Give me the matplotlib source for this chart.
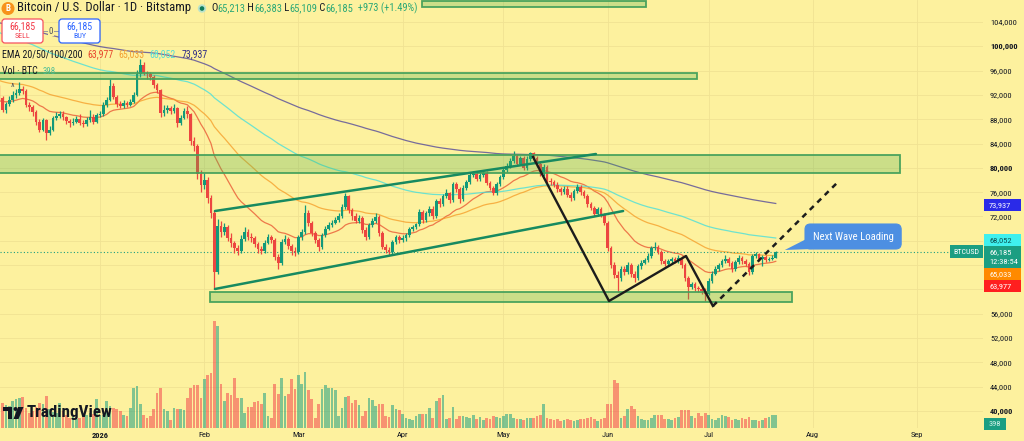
import numpy as np
import pandas as pd
import matplotlib
matplotlib.use('Agg')
import matplotlib.pyplot as plt
from matplotlib import font_manager
from matplotlib.patches import Rectangle, FancyBboxPatch, Polygon, Circle
from matplotlib.transforms import IdentityTransform

# daily BTCUSD (Bitstamp) candles, prices in thousands of USD, day 0 = 1 Jan 2026
first_day = -30
first_open = 93.0
closes = [91.5, 89.6, 90.5, 91.2, 92.0, 92.3, 92.9, 92.6, 90.4, 90.0,
          89.2, 87.5, 86.3, 87.8, 85.8, 86.3, 88.2, 88.6, 88.9, 88.3,
          87.7, 87.4, 87.6, 88.0, 87.4, 87.2, 87.9, 88.4, 87.6, 88.7,
          88.9, 90.4, 91.2, 93.5, 91.7, 90.5, 90.2, 90.6, 90.4, 90.9,
          92.0, 95.4, 97.0, 95.6, 95.4, 95.0, 93.6, 92.8, 89.0, 89.5,
          89.8, 89.4, 89.8, 87.4, 88.2, 89.4, 88.8, 84.4, 83.6, 79.0,
          77.2, 78.0, 75.0, 72.5, 62.9, 70.4, 69.5, 70.2, 68.5, 67.6,
          66.8, 66.4, 68.3, 69.5, 68.7, 68.4, 67.4, 66.6, 66.3, 67.7,
          68.6, 68.1, 65.4, 64.3, 67.8, 68.3, 67.1, 66.4, 66.1, 68.6,
          69.4, 72.6, 70.9, 69.2, 68.1, 66.9, 68.9, 70.0, 70.6, 71.0,
          71.4, 72.0, 73.5, 75.3, 73.0, 72.0, 71.3, 71.7, 69.8, 68.6,
          70.6, 71.2, 71.9, 69.2, 67.0, 66.5, 66.2, 67.8, 68.6, 68.1,
          68.4, 68.9, 69.9, 70.2, 70.7, 72.8, 71.4, 72.5, 73.3, 72.0,
          74.5, 74.0, 75.3, 75.8, 74.7, 77.3, 76.5, 74.8, 76.7, 77.6,
          78.8, 79.0, 78.2, 78.8, 79.2, 77.5, 76.7, 75.9, 77.3, 78.5,
          79.7, 80.3, 81.1, 81.9, 80.7, 81.6, 80.0, 81.5, 82.4, 81.6,
          80.6, 79.0, 80.1, 77.9, 77.6, 77.2, 76.5, 76.0, 76.6, 75.6,
          75.0, 76.2, 76.8, 76.0, 75.4, 74.0, 73.4, 72.4, 73.2, 72.3,
          71.0, 66.8, 64.0, 62.4, 61.8, 63.4, 62.8, 64.0, 62.6, 61.8,
          63.8, 64.4, 64.8, 65.5, 66.8, 67.0, 66.2, 64.6, 64.2, 64.6,
          65.0, 64.7, 65.2, 64.0, 61.9, 60.4, 60.9, 60.2, 60.1, 59.8,
          59.2, 61.4, 62.6, 63.4, 64.0, 64.6, 65.0, 64.3, 63.3, 64.5,
          65.2, 64.6, 64.2, 62.8, 65.5, 65.8, 65.0, 65.3, 64.9, 65.0,
          65.213, 66.185]
highs = [93.6, 91.9, 90.9, 91.8, 92.6, 93.0, 94.1, 93.5, 92.9, 90.9,
         90.4, 89.6, 88.0, 88.2, 88.1, 86.9, 88.6, 89.2, 89.4, 89.3,
         88.6, 88.0, 88.2, 88.5, 88.9, 87.8, 88.3, 89.6, 88.8, 89.0,
         89.3, 90.8, 91.7, 94.6, 93.9, 92.0, 91.0, 91.2, 91.0, 91.4,
         92.4, 96.1, 97.9, 97.4, 96.0, 95.8, 95.3, 93.9, 93.0, 90.3,
         90.4, 90.2, 90.5, 90.0, 88.7, 89.9, 90.2, 89.1, 85.0, 84.0,
         79.6, 79.2, 78.5, 75.6, 73.0, 71.6, 71.2, 70.9, 70.6, 69.3,
         68.0, 67.3, 68.9, 70.2, 70.0, 69.2, 68.8, 67.8, 67.1, 68.1,
         69.1, 69.0, 68.5, 65.9, 68.3, 68.9, 68.7, 67.5, 66.9, 69.0,
         70.0, 73.9, 73.0, 71.3, 69.6, 68.5, 69.3, 70.5, 71.1, 71.5,
         71.9, 72.6, 74.0, 75.9, 75.6, 73.4, 72.5, 72.2, 72.0, 70.2,
         71.0, 71.7, 72.5, 72.2, 69.6, 67.4, 66.9, 68.2, 69.0, 69.0,
         68.9, 69.3, 70.3, 70.6, 71.0, 73.2, 73.1, 72.9, 73.8, 73.7,
         74.9, 75.0, 75.7, 76.6, 76.1, 77.7, 77.6, 76.9, 77.1, 78.0,
         79.2, 79.5, 79.3, 79.2, 79.7, 79.5, 77.9, 77.0, 77.7, 78.9,
         80.1, 80.8, 81.6, 82.7, 82.2, 82.0, 81.9, 81.9, 82.6, 82.6,
         82.0, 80.9, 80.6, 80.4, 78.3, 78.0, 77.6, 76.9, 77.0, 77.0,
         76.0, 76.6, 77.3, 77.1, 76.4, 75.7, 74.4, 73.8, 73.6, 73.5,
         72.6, 71.3, 67.2, 64.5, 63.0, 63.9, 63.8, 64.5, 64.3, 63.0,
         64.2, 64.8, 65.2, 66.0, 67.2, 67.8, 67.3, 66.5, 65.0, 65.0,
         65.4, 65.4, 65.6, 65.5, 64.3, 62.2, 61.3, 61.2, 60.6, 60.5,
         60.2, 61.8, 63.0, 63.8, 64.4, 65.0, 65.6, 65.3, 64.6, 64.9,
         65.6, 65.5, 65.0, 64.5, 65.9, 66.2, 66.0, 65.7, 65.6, 65.4,
         65.6, 66.383]
lows = [91.0, 89.2, 89.0, 90.1, 90.8, 91.5, 92.0, 92.1, 90.0, 89.4,
        88.6, 87.0, 85.9, 86.0, 84.6, 85.4, 86.1, 87.8, 88.2, 87.9,
        87.2, 86.8, 87.0, 87.3, 87.1, 86.7, 86.9, 87.6, 87.2, 87.3,
        88.3, 88.6, 90.0, 91.0, 91.3, 90.0, 89.8, 89.9, 90.0, 90.1,
        90.6, 91.8, 95.0, 95.2, 94.7, 94.5, 93.1, 92.3, 88.4, 88.6,
        89.1, 88.9, 89.1, 86.8, 87.0, 88.0, 88.2, 83.8, 82.7, 78.2,
        76.0, 76.6, 74.3, 71.8, 60.1, 62.5, 68.6, 68.9, 67.9, 67.0,
        66.0, 65.7, 66.0, 68.0, 68.2, 67.8, 66.9, 66.0, 65.8, 66.0,
        67.4, 67.6, 64.9, 63.3, 64.0, 67.4, 66.6, 65.6, 65.5, 65.8,
        68.2, 69.1, 70.4, 68.8, 67.6, 66.4, 66.6, 68.6, 69.7, 70.2,
        70.7, 71.1, 71.7, 73.2, 72.6, 71.5, 70.9, 71.0, 69.3, 68.1,
        68.3, 70.2, 70.9, 68.8, 66.6, 66.0, 65.6, 65.9, 67.5, 67.7,
        67.8, 68.0, 68.6, 69.6, 69.9, 70.4, 71.0, 71.1, 72.1, 71.6,
        71.7, 73.6, 73.7, 75.0, 74.3, 74.4, 76.0, 74.3, 74.5, 76.4,
        77.3, 78.5, 77.8, 77.9, 78.5, 77.1, 76.3, 75.5, 75.6, 77.0,
        78.2, 79.4, 80.0, 80.8, 80.3, 80.4, 79.6, 79.7, 81.1, 81.2,
        80.2, 78.6, 78.7, 77.5, 77.1, 76.8, 76.1, 75.6, 75.7, 75.2,
        74.6, 74.7, 75.9, 75.6, 75.0, 73.6, 73.0, 72.0, 72.1, 71.9,
        70.6, 66.3, 63.5, 61.8, 59.5, 61.4, 62.3, 62.5, 62.1, 61.3,
        61.5, 63.4, 64.1, 64.5, 65.2, 66.5, 65.8, 64.2, 63.8, 63.9,
        64.3, 64.3, 64.4, 63.6, 61.4, 58.5, 60.0, 59.8, 59.6, 59.3,
        58.1, 59.0, 61.1, 62.3, 63.1, 63.7, 64.3, 63.9, 62.9, 63.0,
        64.2, 64.2, 63.8, 62.4, 62.5, 65.2, 64.6, 63.9, 64.5, 64.6,
        64.8, 65.109]
volumes = [780, 760, 700, 650, 820, 880, 900, 930, 600, 450,
           520, 640, 760, 720, 960, 560, 480, 440, 750, 500,
           380, 300, 340, 280, 300, 380, 400, 460, 430, 870,
           400, 380, 810, 660, 600, 580, 520, 380, 350, 600,
           1200, 1260, 720, 380, 300, 350, 560, 1050, 1200, 570,
           520, 250, 600, 570, 560, 550, 900, 1200, 1300, 1300,
           900, 1470, 1590, 1650, 3200, 3050, 1320, 800, 1050, 990,
           1500, 900, 900, 450, 630, 630, 780, 810, 720, 1050,
           360, 300, 1320, 1020, 1500, 960, 1020, 1470, 1170, 1590,
           1320, 1680, 1140, 870, 300, 720, 1170, 1290, 1200, 1200,
           1140, 360, 600, 930, 960, 750, 840, 690, 360, 510,
           900, 840, 660, 720, 720, 360, 330, 690, 570, 540,
           420, 300, 270, 240, 360, 420, 420, 420, 600, 300,
           810, 900, 990, 270, 300, 630, 270, 360, 360, 330,
           300, 390, 270, 330, 240, 300, 270, 360, 330, 300,
           360, 420, 420, 300, 270, 270, 240, 300, 300, 300,
           360, 390, 720, 300, 270, 240, 270, 210, 240, 270,
           240, 210, 240, 270, 270, 300, 330, 270, 210, 270,
           300, 720, 720, 1440, 1350, 300, 360, 570, 660, 570,
           360, 270, 240, 240, 300, 390, 390, 390, 270, 270,
           240, 300, 330, 540, 540, 540, 360, 300, 450, 360,
           450, 390, 270, 240, 300, 390, 360, 330, 240, 270,
           240, 300, 270, 330, 240, 240, 210, 240, 300, 330,
           390, 398]
assert len(closes) == len(highs) == len(lows) == len(volumes) == 232

ema_periods = [20, 50, 100, 200]
ema_start = [91.0, 94.5, 102.5, 104.0]
ema_last = ['63,977', '65,033', '68,052', '73,937']
ema_last_values = [63.977, 65.033, 68.052, 73.937]
ema_colors = ['#e8502e', '#f59b25', '#3fdede', '#4a3f9a']

month_days = [0, 31, 59, 90, 120, 151, 181, 212, 243]
month_labels = ['2026', 'Feb', 'Mar', 'Apr', 'May', 'Jun', 'Jul', 'Aug', 'Sep']
price_ticks = list(range(40, 108, 4))

header_values = ['65,213', '66,383', '65,109', '66,185']
header_change = '+973 (+1.49%)'
last_price = 66.185
last_volume = 398

# chart drawings (days, prices in thousands)
zones = [(95.7, 162.4, 106.52, 107.50),
         (-40, 177.6, 94.54, 95.69),
         (-40, 238.0, 79.17, 82.07),
         (32.7, 205.7, 57.93, 59.57)]
channel_upper = ([34.2, 147.5], [72.90, 82.28])
channel_lower = ([34.2, 155.6], [60.07, 72.90])
swing_days = [128.8, 151.4, 174.3, 182.3]
swing_prices = [81.79, 58.09, 65.50, 57.27]
target_days = [182.3, 219.8]
target_prices = [57.27, 77.84]
note_box = (209.7, 238.3, 66.65, 70.76)
note_tip = (203.7, 66.49)

W, H = 1024, 441
BG = '#fdf19e'
UP = '#12997a'
DN = '#ec4640'
TXT = '#131722'

names = {f.name for f in font_manager.fontManager.ttflist}
narrow = [n for n in ['Liberation Sans Narrow', 'Roboto Condensed', 'Open Sans Condensed',
                      'Noto Sans Condensed'] if n in names]
FONT = narrow[0] if narrow else 'Liberation Sans'
WIDEN = 1.0 if narrow else 1.12
plt.rcParams['font.family'] = [FONT, 'DejaVu Sans']

fig = plt.figure(figsize=(W / 100, H / 100), dpi=100, facecolor=BG)
renderer = fig.canvas.get_renderer()
AX_R = 983
ax = fig.add_axes([0, 13 / H, AX_R / W, 428 / H])
ax.set_facecolor(BG)
ax.set_xlim(-100 / 3.362, (AX_R - 100) / 3.362)
ax.set_ylim(104 - 406 * 4 / 24.31, 104 + 22 * 4 / 24.31)


def ptext(x, y, s, size, color=TXT, weight='normal', ha='left', va='center', z=20):
    return fig.text(x, H - y, s, transform=IdentityTransform(), fontsize=size, color=color,
                    fontweight=weight, ha=ha, va=va, zorder=z)


def fit(x, y, s, width, **kw):
    t = ptext(x, y, s, 10, **kw)
    t.set_fontsize(10 * width * WIDEN / t.get_window_extent(renderer).width)
    return t


def prect(x0, y0, x1, y1, fc, ec='none', lw=0, r=0, z=15):
    style = f'round,pad=0,rounding_size={r}' if r else 'square,pad=0'
    p = FancyBboxPatch((x0, H - y1), x1 - x0, y1 - y0, boxstyle=style, fc=fc, ec=ec, lw=lw,
                       transform=IdentityTransform(), zorder=z)
    fig.add_artist(p)
    return p


def ypx(price):
    return H - ax.transData.transform((0, price))[1]


probe = ptext(0, 0, '104,000', 10)
tick_size = 10 * 26 * WIDEN / probe.get_window_extent(renderer).width
probe.remove()

days = np.arange(first_day, first_day + len(closes))
opens = [first_open] + closes[:-1]
up = np.array(closes) >= np.array(opens)
colors = np.where(up, UP, DN)

# volume (bottom overlay, 30 BTC per pixel)
vol_colors = [(8 / 255, 153 / 255, 129 / 255, 0.5) if u else (242 / 255, 54 / 255, 69 / 255, 0.5) for u in up]
ax.bar(days, np.array(volumes) / (428 * 30.0), width=0.8, bottom=0, color=vol_colors,
       transform=ax.get_xaxis_transform(), zorder=1)

# EMAs
close_s = pd.Series(closes)
for n, start, c in zip(ema_periods, ema_start, ema_colors):
    ema = pd.concat([pd.Series([start]), close_s], ignore_index=True).ewm(span=n, adjust=False).mean().iloc[1:]
    ax.plot(days, ema.values, color=c, lw=0.9, alpha=0.75, zorder=2)

ax.axhline(last_price, color='#1b9e82', lw=0.8, ls=(0, (1, 2)), zorder=2)

# candles
ax.vlines(days, lows, highs, colors=colors, lw=0.9, zorder=3)
body_lo = np.minimum(opens, closes)
body_h = np.maximum(np.abs(np.array(closes) - np.array(opens)), 0.15)
ax.bar(days, body_h, width=0.8, bottom=body_lo, color=colors, zorder=3.1)

# zones
for d0, d1, lo, hi in zones:
    ax.add_patch(Rectangle((d0, lo), d1 - d0, hi - lo, fc=(76 / 255, 175 / 255, 80 / 255, 0.28),
                           ec=(67 / 255, 160 / 255, 90 / 255, 0.95), lw=1.3, zorder=4))

# trend lines
ax.plot(*channel_upper, color='#178a60', lw=1.8, zorder=5, solid_capstyle='round')
ax.plot(*channel_lower, color='#178a60', lw=1.8, zorder=5, solid_capstyle='round')
ax.plot(swing_days, swing_prices, color='#1c1c1c', lw=1.7, zorder=5)
ax.plot(target_days, target_prices, color='#1c1c1c', lw=1.8, ls=(0, (2.2, 2.0)), zorder=5)

# callout
nb = FancyBboxPatch((note_box[0], note_box[2]), note_box[1] - note_box[0], note_box[3] - note_box[2],
                    boxstyle='round,pad=0,rounding_size=1.6', mutation_aspect=0.553,
                    fc='#4d8fe2', ec='#4d8fe2', lw=0.8, zorder=6)
ax.add_patch(nb)
ax.add_patch(Polygon([(note_box[0] + 0.6, note_box[2] + 1.7), note_tip, (note_box[0] + 2.4, note_box[2])],
                     closed=True, fc='#4d8fe2', ec='none', zorder=6))
cx = (note_box[0] + note_box[1]) / 2
cy = (note_box[2] + note_box[3]) / 2
nt = ax.text(cx, cy, 'Next Wave Loading', color='white', ha='center', va='center', fontsize=7.5, zorder=7)
nt.set_fontsize(7.5 * 80 * min(WIDEN, 1.08) / nt.get_window_extent(renderer).width)

# price scale markers (stacked like the price axis does)
marks = [(ema_last_values[3], '#2a2ae8', 'white', [ema_last[3]]),
         (ema_last_values[2], '#3ff0ee', '#0b5050', [ema_last[2]]),
         (last_price, '#1b9e82', 'white', [header_values[3], '12:38:54']),
         (ema_last_values[1], '#ff8a00', 'white', [ema_last[1]]),
         (ema_last_values[0], '#ff1f1f', 'white', [ema_last[0]])]
covered = []
prev_bottom = -1e9
for value, fc, tc, lines in marks:
    h = 12 + 9.5 * (len(lines) - 1)
    top = max(ypx(value) - 6, prev_bottom)
    prect(AX_R + 1, top, 1021, top + h, fc, z=16)
    for i, s in enumerate(lines):
        ptext(989, top + 6 + 9.5 * i, s, tick_size, color=tc, z=17)
    covered.append((top - 4, top + h + 4))
    prev_bottom = top + h
yl = ypx(last_price)
prect(950, yl - 6.5, AX_R, yl + 6.5, '#1b9e82', z=16)
ptext((950 + AX_R) / 2, yl, 'BTCUSD', tick_size * 0.95, color='white', ha='center', z=17)
prect(AX_R + 1, 418, 1006, 430, '#1b9e82', z=16)
ptext(995, 424, str(last_volume), tick_size, color='#d8f5ec', ha='center', z=17)

# grid + axes
ax.set_axisbelow(True)
ax.grid(color='#f0e293', lw=0.6)
for s in ax.spines.values():
    s.set_visible(False)
ax.set_xticks(month_days)
ax.set_xticklabels(month_labels)
ax.set_yticks(price_ticks)
tick_text = []
for v in price_ticks:
    yv = ypx(v)
    hidden = any(a < yv < b for a, b in covered)
    tick_text.append('' if hidden else f'{v * 1000:,}')
ax.set_yticklabels(tick_text)
ax.yaxis.tick_right()
ax.tick_params(axis='y', length=0, pad=5, labelsize=tick_size, labelcolor=TXT)
ax.tick_params(axis='x', length=0, pad=3, labelsize=tick_size, labelcolor=TXT)
ax.get_xticklabels()[0].set_fontweight('bold')
for lab, v in zip(ax.get_yticklabels(), price_ticks):
    if v in (40, 60, 80, 100):
        lab.set_fontweight('bold')

# header
fig.add_artist(Circle((8, H - 8.5), 6.5, fc='#f7931a', ec='none', transform=IdentityTransform(), zorder=18))
ptext(8, 8.5, 'B', 6.5, color='white', weight='bold', ha='center', z=19)
fit(17, 8, 'Bitcoin / U.S. Dollar · 1D · Bitstamp', 173)
dot_x = 202 + 173 * (WIDEN - 1)
fig.add_artist(Circle((dot_x, H - 8.5), 4.2, fc='#b9e3cc', ec='none', transform=IdentityTransform(), zorder=18))
fig.add_artist(Circle((dot_x, H - 8.5), 2.3, fc='#0f7b5a', ec='none', transform=IdentityTransform(), zorder=19))
parts = [('O', TXT), (header_values[0], '#2aa876'), (' H', TXT), (header_values[1], '#2aa876'),
         (' L', TXT), (header_values[2], '#2aa876'), (' C', TXT), (header_values[3], '#2aa876'),
         ('  ' + header_change, '#2aa876')]
full = ''.join(p for p, _ in parts)
probe = ptext(0, 0, full, 10)
ohlc_size = 10 * 207 * WIDEN / probe.get_window_extent(renderer).width
probe.remove()
x = dot_x + 9
for s, c in parts:
    t = ptext(x, 8, s, ohlc_size, color=c)
    x += t.get_window_extent(renderer).width

prect(2, 19, 43, 43, 'white', ec='#f7525f', lw=0.9, r=3, z=18)
prect(59, 19, 100, 43, 'white', ec='#2962ff', lw=0.9, r=3, z=18)
fig.add_artist(plt.Line2D([43, 59], [H - 31, H - 31], color='#9598a1', lw=0.7,
                          transform=IdentityTransform(), zorder=17))
ptext(51, 31, '0', 6.5, color='#50535e', ha='center', z=19).set_bbox(dict(fc=BG, ec='none', pad=0.3))
ptext(22.5, 26, header_values[3], 7, color='#f23645', ha='center', z=19)
ptext(22.5, 36.5, 'SELL', 5.8, color='#f23645', ha='center', z=19)
ptext(79.5, 26, header_values[3], 7, color='#2962ff', ha='center', z=19)
ptext(79.5, 36.5, 'BUY', 5.8, color='#2962ff', ha='center', z=19)

t = fit(2, 54, 'EMA 20/50/100/200', 80)
x = 2 + t.get_window_extent(renderer).width + 5
for s, c in zip(ema_last, ['#e8452c', '#f2a033', '#55dcd6', '#2f2c86']):
    t = fit(x, 54, s, 26, color=c)
    x += t.get_window_extent(renderer).width + 5
t = fit(2, 71, 'Vol · BTC', 36)
fit(2 + t.get_window_extent(renderer).width + 5, 71, str(last_volume), 13, color='#4fbf95')
ptext(12, 88, '^', 7, color='#50535e', ha='center')

# TradingView logo
for patch in [Rectangle((3, H - 410.5), 9, 3.5), Rectangle((7.5, H - 419), 4, 12),
              Circle((15.5, H - 409), 2), Polygon([(18, H - 407), (23.5, H - 407), (18.5, H - 419), (13.5, H - 419)])]:
    patch.set(fc='#131722', ec='none', transform=IdentityTransform(), zorder=18)
    fig.add_artist(patch)
t = ptext(27, 413, 'TradingView', 10, weight='bold')
t.set_fontsize(10 * 86 / t.get_window_extent(renderer).width)

fig.savefig('out.png', dpi=100, facecolor=BG)
